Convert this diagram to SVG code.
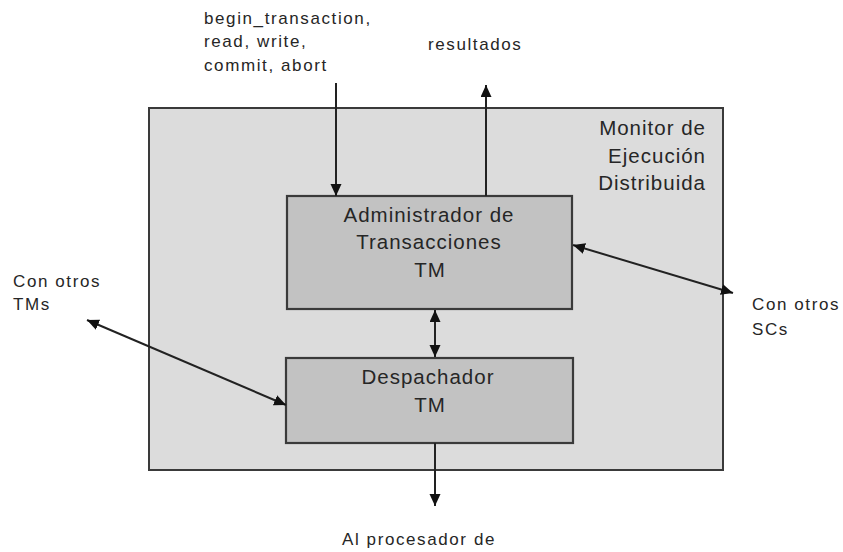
<svg xmlns="http://www.w3.org/2000/svg" width="843" height="552" viewBox="0 0 843 552">
  <style>
    .frame { fill: #dcdcdc; stroke: #3a3a3a; stroke-width: 2; }
    .box { fill: #c2c2c2; stroke: #3a3a3a; stroke-width: 2.2; }
    .big { font-family: "Liberation Sans", Arial, sans-serif; font-size: 20.5px; letter-spacing: 1px; fill: #262626; }
    .small { font-family: "Liberation Sans", Arial, sans-serif; font-size: 17px; letter-spacing: 1.6px; fill: #262626; }
    .mid { text-anchor: middle; }
    .end { text-anchor: end; }
    .wire { stroke: #222; stroke-width: 2; fill: none; }
  </style>
  <defs>
    <marker id="arrow" markerUnits="userSpaceOnUse" markerWidth="13" markerHeight="12" refX="12" refY="5.5" orient="auto-start-reverse">
      <path d="M0,0 L12,5.5 L0,11 z" fill="#111"/>
    </marker>
  </defs>

  <rect width="843" height="552" fill="#ffffff"/>

  <!-- Distributed execution monitor (container) -->
  <g id="monitor">
    <rect class="frame" x="149" y="108" width="574" height="362"/>
    <text class="big end" x="706" y="135">Monitor de</text>
    <text class="big end" x="706" y="163">Ejecución</text>
    <text class="big end" x="706" y="190">Distribuida</text>
  </g>

  <!-- Transaction manager -->
  <g id="tm">
    <rect class="box" x="287" y="196" width="285" height="113"/>
    <text class="big mid" x="429" y="222">Administrador de</text>
    <text class="big mid" x="429" y="249">Transacciones</text>
    <text class="big mid" x="430" y="277">TM</text>
  </g>

  <!-- Dispatcher -->
  <g id="dispatcher">
    <rect class="box" x="286" y="358" width="287" height="85"/>
    <text class="big mid" x="428" y="384">Despachador</text>
    <text class="big mid" x="430" y="412">TM</text>
  </g>

  <!-- Free labels -->
  <g id="labels">
    <text class="small" x="204" y="24">begin_transaction,</text>
    <text class="small" x="204" y="47">read, write,</text>
    <text class="small" x="204" y="71">commit, abort</text>
    <text class="small" x="428" y="50">resultados</text>
    <text class="small" x="13" y="287">Con otros</text>
    <text class="small" x="13" y="310">TMs</text>
    <text class="small" x="752" y="310">Con otros</text>
    <text class="small" x="752" y="335">SCs</text>
    <text class="small mid" x="419" y="545">Al procesador de</text>
  </g>

  <!-- Connectors -->
  <g id="connectors">
    <line class="wire" x1="336" y1="83" x2="336" y2="196" marker-end="url(#arrow)"/>
    <line class="wire" x1="486" y1="196" x2="486" y2="85" marker-end="url(#arrow)"/>
    <line class="wire" x1="435" y1="310" x2="435" y2="357" marker-start="url(#arrow)" marker-end="url(#arrow)"/>
    <line class="wire" x1="87" y1="320" x2="286" y2="405" marker-start="url(#arrow)" marker-end="url(#arrow)"/>
    <line class="wire" x1="573" y1="245" x2="733" y2="293" marker-start="url(#arrow)" marker-end="url(#arrow)"/>
    <line class="wire" x1="435" y1="443" x2="435" y2="506" marker-end="url(#arrow)"/>
  </g>
</svg>
